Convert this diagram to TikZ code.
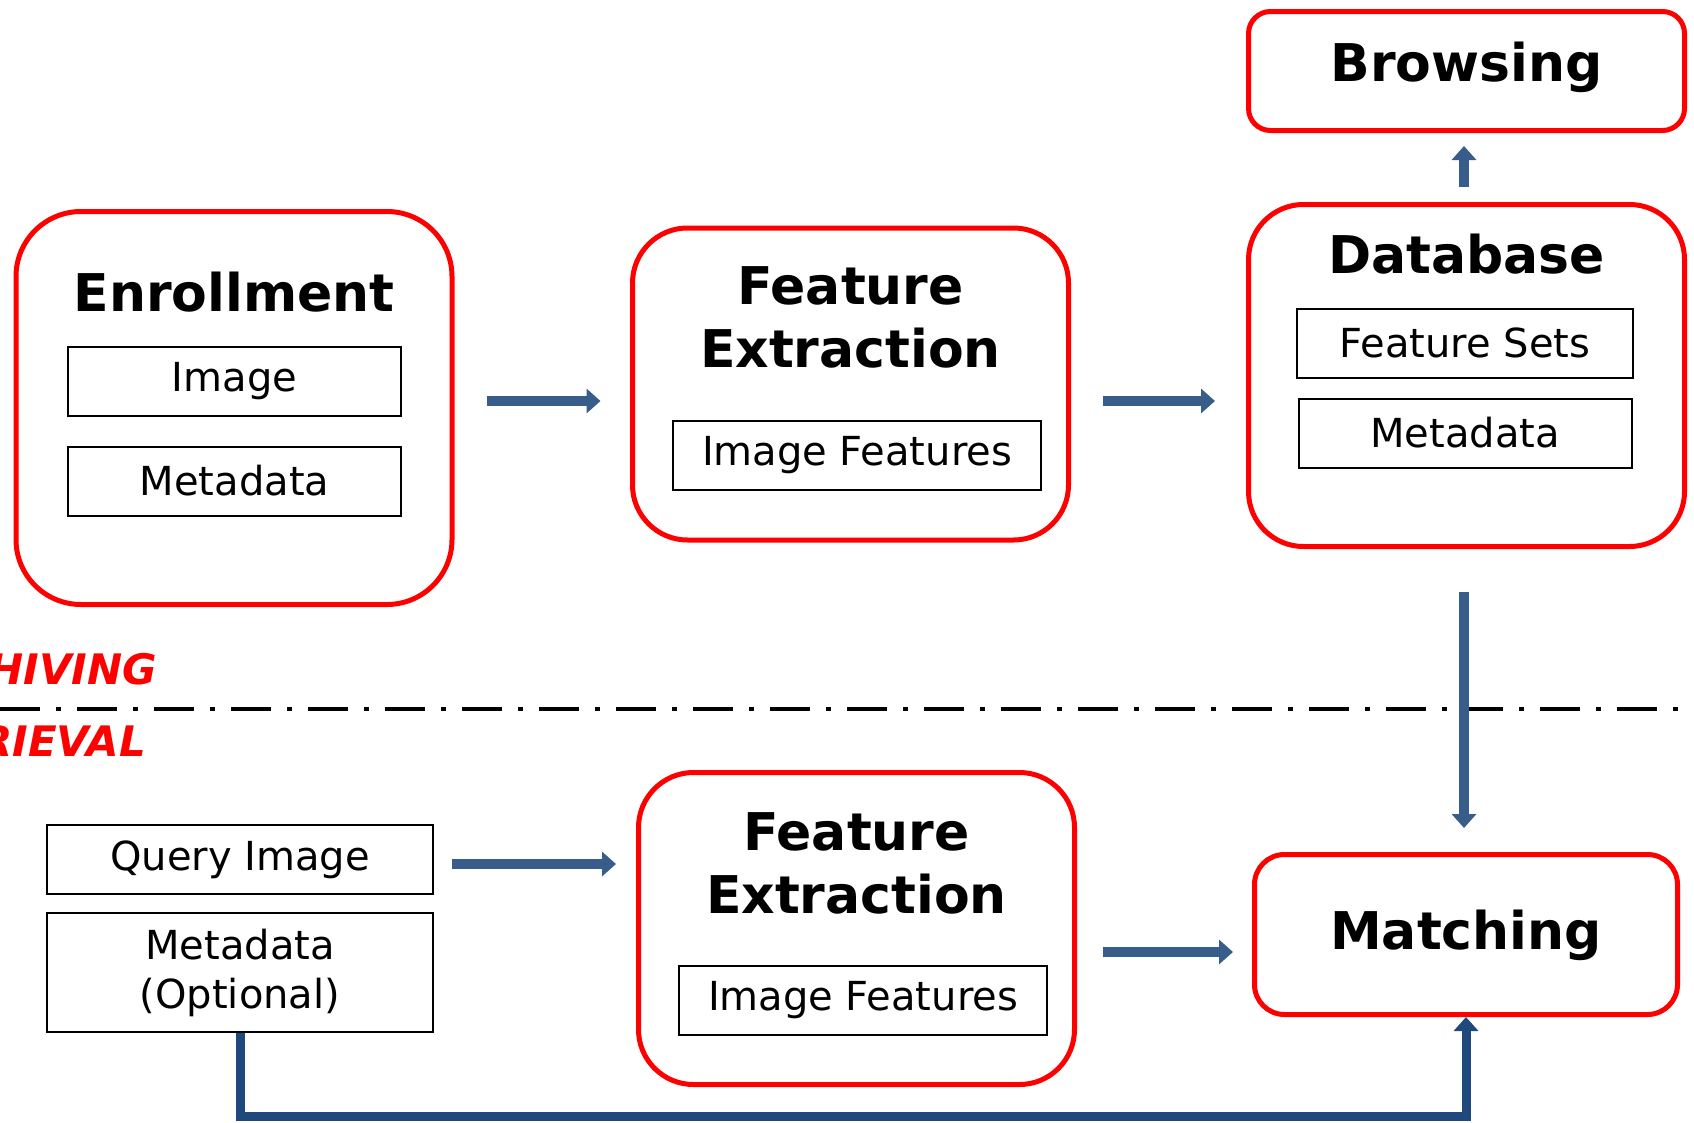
\documentclass[tikz,border=0pt]{standalone}
\usepackage{fontspec}
\setmainfont{DejaVu Sans}
\usetikzlibrary{arrows.meta,positioning}
\definecolor{flowblue}{HTML}{385D8A}
\definecolor{linkblue}{HTML}{1F497D}

\begin{document}
\begin{tikzpicture}[x=1pt,
            y=-1pt,
            >={Triangle[width=24pt,length=14pt]},
            stage/.style={draw=red, line width=5pt, rounded corners=55pt,
                          minimum width=436pt, minimum height=312pt, inner sep=0pt},
            item/.style={draw, line width=2pt, minimum width=333pt, minimum height=69pt,
                         inner sep=0pt, align=center, font=\fontsize{40}{49}\selectfont},
            title/.style={align=center, inner sep=0pt, font=\fontsize{52}{63}\selectfont\bfseries},
            flow/.style={->, line width=10pt, flowblue},
            phase/.style={anchor=base east, inner sep=0pt, text=red,
                          font=\fontsize{42}{50}\selectfont\bfseries\itshape}]

        \useasboundingbox (0,0) rectangle (1694,1122);
        \clip (0,0) rectangle (1694,1122);

        % archiving
        \node[stage, rounded corners=65pt, minimum height=393pt] (enroll) at (234,408) {};
        \node[title]                  (enrollt) at (234,292)     {Enrollment};
        \node[item]                   (img)     at (234.5,381)   {Image};
        \node[item, below=29pt of img] (meta1)                   {Metadata};

        \node[stage] (fe1) at (850.5,384) {};
        \node[title] (fe1t) at (850.5,317.5) {Feature\\Extraction};
        \node[item, minimum width=368pt] (feat1) at (857,455.5) {Image Features};

        \node[stage, minimum height=342pt] (db) at (1466.5,375.5) {};
        \node[title]                        (dbt)   at (1466.5,254) {Database};
        \node[item, minimum width=336pt]    (sets)  at (1465,343)   {Feature Sets};
        \node[item, below=19pt of sets]     (meta2)                 {Metadata};

        \node[stage, rounded corners=22pt, minimum height=119pt] (brow) at (1466.5,71) {};
        \node[title] (browt) at (1466.5,67) {Browsing};

        \draw[flow] ([xshift=32pt,yshift=7pt]enroll.east) -- ++(114,0);
        \draw[flow] ([xshift=32pt,yshift=-17pt]fe1.east) -- ++(112,0);
        \draw[flow] ([xshift=-2.5pt,yshift=15pt]db.north) -- ++(0,-41);

        % separator
        \draw[line width=4pt, dash pattern=on 40pt off 16pt on 5pt off 16pt] (0,709) -- (1694,709);
        \node[phase] (arch) at (157,684) {ARCHIVING};
        \node[phase] (retr) at (146,756) {RETRIEVAL};

        % retrieval
        \node[item, minimum width=386pt]        (query)                   at (240,859.5) {Query Image};
        \node[item, minimum width=386pt, minimum height=119pt, below=17pt of query] (meta3) {Metadata\\(Optional)};

        \node[stage] (fe2) at (856.5,928.5) {};
        \node[title] (fe2t) at (856.5,863.5) {Feature\\Extraction};
        \node[item, minimum width=368pt] (feat2) at (863,1000.5) {Image Features};

        \node[stage, rounded corners=30pt, minimum width=423pt, minimum height=160pt] (match) at (1466,934.5) {};
        \node[title] (matcht) at (1466,935) {Matching};

        \draw[flow] ([xshift=-2.5pt,yshift=-43pt]db.south) -- ([xshift=-2pt,yshift=24pt]match.north);
        \draw[flow] ([xshift=18pt,yshift=-4.5pt]query.east) -- ++(164,0);
        \draw[flow] ([xshift=26pt,yshift=-23.5pt]fe2.east) -- ++(130,0);
        \draw[->, line width=9pt, linkblue] (meta3.south) -- ++(0,83) -| (match.south);

    \end{tikzpicture}
\end{document}
